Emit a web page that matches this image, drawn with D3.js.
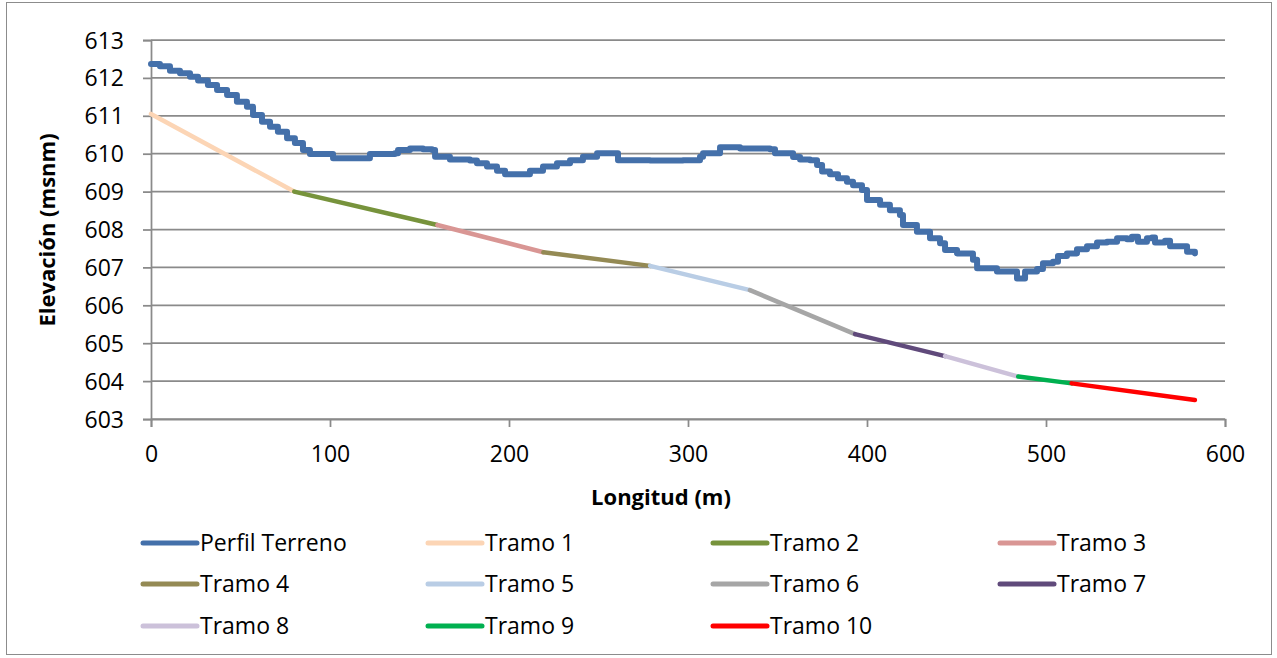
<!DOCTYPE html>
<html>
<head>
<meta charset="utf-8">
<script src="https://cdn.jsdelivr.net/npm/d3@7"></script>
<style>
  html, body { margin: 0; padding: 0; background: #fff; }
  svg { display: block; }
  text { font-family: "Open Sans", "Noto Sans", sans-serif; fill: #000; }
</style>
</head>
<body>
<svg id="chart" width="1277" height="658"></svg>
<script>
// Terrain profile: distance along the alignment (m) and ground elevation (msnm)
const terrainX = [0, 5, 10.6, 16.2, 21.8, 26.3, 31.8, 36.9, 42.5, 48, 53.6, 57, 62, 66.5, 70.9, 76, 80.4, 84.9, 88.8, 96.1,
  101.7, 115.1, 122.3, 136.3, 138, 144.7, 152, 157, 158.7, 167, 178.2, 182.1, 187.7, 193.3, 197.8, 206.1, 211.7, 219,
  226.8, 234.1, 241.3, 249.2, 258.1, 260.9, 278.8, 297.2, 306.7, 308.4, 316.2, 317.9, 329.1, 345.8, 348.6, 355.9,
  358.7, 362.6, 368.2, 372.1, 374.9, 379.3, 383.8, 388.8, 392.2, 397.2, 400, 407.3, 412.8, 418.4, 420.1, 427.9,
  435.2, 440.8, 443.6, 450.3, 459.2, 461.5, 472.6, 481, 483.8, 486.6, 488.3, 495, 498.3, 503.9, 506.7, 511.7,
  517.3, 522.9, 528.5, 534.1, 539.7, 545.3, 548, 551.4, 556.4, 559.2, 560.9, 566.5, 569.3, 576.5, 578.8, 583.2];
const terrainY = [612.37, 612.31, 612.19, 612.12, 612.03, 611.93, 611.81, 611.68, 611.55, 611.37, 611.24, 611.02, 610.84,
  610.71, 610.58, 610.41, 610.28, 610.1, 609.99, 609.99, 609.88, 609.88, 609.99, 610.01, 610.1, 610.14, 610.12, 610.1,
  609.92, 609.85, 609.82, 609.75, 609.66, 609.55, 609.46, 609.46, 609.55, 609.66, 609.75, 609.83, 609.92, 610.01,
  610.01, 609.83, 609.82, 609.83, 609.92, 610.01, 610.01, 610.17, 610.14, 610.12, 610.01, 610.01, 609.91, 609.85,
  609.83, 609.7, 609.53, 609.46, 609.35, 609.26, 609.17, 609.04, 608.78, 608.65, 608.51, 608.38, 608.12, 607.94,
  607.77, 607.64, 607.46, 607.37, 607.2, 606.98, 606.89, 606.89, 606.71, 606.71, 606.89, 606.96, 607.11, 607.15,
  607.3, 607.37, 607.48, 607.56, 607.66, 607.68, 607.77, 607.74, 607.81, 607.68, 607.77, 607.79, 607.66, 607.7,
  607.56, 607.56, 607.41, 607.37];

// Design grade breakpoints; tramo i runs from breakpoint i to breakpoint i+1
const breakX = [0, 80, 160, 219.2, 278.8, 334.6, 393.3, 443.6, 484.5, 514.3, 583.2];
const breakY = [611.05, 609.0, 608.12, 607.4, 607.04, 606.4, 605.24, 604.66, 604.12, 603.94, 603.5];

const seriesNames = ["Perfil Terreno", "Tramo 1", "Tramo 2", "Tramo 3", "Tramo 4", "Tramo 5",
  "Tramo 6", "Tramo 7", "Tramo 8", "Tramo 9", "Tramo 10"];
const seriesColors = ["#4470AA", "#FCD5B5", "#77933C", "#D99694", "#948A54", "#B9CDE5",
  "#A6A6A6", "#604A7B", "#CCC1DA", "#00B050", "#FF0000"];

const xTicks = [0, 100, 200, 300, 400, 500, 600];
const yTicks = [603, 604, 605, 606, 607, 608, 609, 610, 611, 612, 613];

const svg = d3.select("#chart");

// outer chart frame
svg.append("rect")
  .attr("x", 6.5).attr("y", 2.5).attr("width", 1265).attr("height", 652)
  .attr("fill", "#fff").attr("stroke", "#8c8c8c").attr("stroke-width", 1);

const x = d3.scaleLinear().domain([0, 600]).range([151, 1225]);
const y = d3.scaleLinear().domain([603, 613]).range([419, 40]);

const gridColor = "#8a8a8a";

// horizontal gridlines
svg.append("g")
  .selectAll("line")
  .data(yTicks)
  .join("line")
  .attr("x1", x(0)).attr("x2", x(600))
  .attr("y1", d => y(d)).attr("y2", d => y(d))
  .attr("stroke", gridColor).attr("stroke-width", 1.75);

// y axis
const yAxis = svg.append("g")
  .attr("transform", `translate(${x(0)},0)`)
  .call(d3.axisLeft(y).tickValues(yTicks).tickSize(8).tickPadding(19).tickFormat(d3.format("d")));
yAxis.select(".domain").attr("stroke", gridColor).attr("stroke-width", 1.75);
yAxis.selectAll(".tick line").attr("stroke", gridColor).attr("stroke-width", 1.75);
yAxis.selectAll(".tick text").style("font-size", "23px").attr("dy", "0.35em");

// x axis
const xAxis = svg.append("g")
  .attr("transform", `translate(0,${y(603)})`)
  .call(d3.axisBottom(x).tickValues(xTicks).tickSize(8).tickPadding(19).tickFormat(d3.format("d")));
xAxis.select(".domain").attr("stroke", gridColor).attr("stroke-width", 1.75);
xAxis.selectAll(".tick line").attr("stroke", gridColor).attr("stroke-width", 1.75);
xAxis.selectAll(".tick text").style("font-size", "23px");

// axis titles
svg.append("text")
  .attr("x", 661).attr("y", 505)
  .attr("text-anchor", "middle")
  .style("font-size", "22px").style("font-weight", "bold")
  .text("Longitud (m)");

svg.append("text")
  .attr("transform", "translate(55,230) rotate(-90)")
  .attr("text-anchor", "middle")
  .style("font-size", "22px").style("font-weight", "bold")
  .text("Elevación (msnm)");

// design grade segments
const tramos = d3.range(breakX.length - 1).map(i => ({
  name: seriesNames[i + 1],
  color: seriesColors[i + 1],
  pts: [[breakX[i], breakY[i]], [breakX[i + 1], breakY[i + 1]]]
}));

const segLine = d3.line().x(d => x(d[0])).y(d => y(d[1]));

svg.append("g")
  .selectAll("path")
  .data(tramos)
  .join("path")
  .attr("d", d => segLine(d.pts))
  .attr("fill", "none")
  .attr("stroke", d => d.color)
  .attr("stroke-width", 4.5)
  .attr("stroke-linecap", "round");

// ground profile
const terrain = terrainX.map((d, i) => [d, terrainY[i]]);
svg.append("path")
  .datum(terrain)
  .attr("d", d3.line().x(d => x(d[0])).y(d => y(d[1])).curve(d3.curveStepAfter))
  .attr("fill", "none")
  .attr("stroke", seriesColors[0])
  .attr("stroke-width", 6)
  .attr("stroke-linejoin", "round")
  .attr("stroke-linecap", "round");

// legend: 4 columns, 3 rows
const colX = [143, 428, 713, 1000];
const rowY = [543, 584, 626];
const legend = svg.append("g")
  .selectAll("g")
  .data(seriesNames)
  .join("g")
  .attr("transform", (d, i) => `translate(${colX[i % 4]},${rowY[Math.floor(i / 4)]})`);

legend.append("line")
  .attr("x1", 0).attr("x2", 54).attr("y1", 0).attr("y2", 0)
  .attr("stroke", (d, i) => seriesColors[i])
  .attr("stroke-width", 5)
  .attr("stroke-linecap", "round");

legend.append("text")
  .attr("x", 57).attr("y", 0).attr("dy", "0.35em")
  .style("font-size", "23px")
  .text(d => d);
</script>
</body>
</html>
